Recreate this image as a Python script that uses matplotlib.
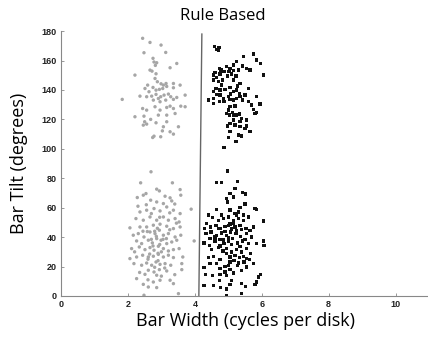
import numpy as np
import matplotlib
matplotlib.use("Agg")
import matplotlib.pyplot as plt

# gray group (narrow bars), upper cluster: (width, tilt)
gray_hi_x = [2.44, 2.66, 2.99, 2.48, 2.75, 2.78, 3.13, 2.82, 2.66, 2.72, 2.86, 3.46, 3.26, 2.21,
             2.84, 2.59, 2.81, 3.36, 3.14, 2.88, 2.75, 2.99, 3.06, 2.51, 2.63, 2.84, 2.94, 3.04,
             3.16, 3.36, 3.56, 2.71, 2.84, 2.91, 2.98, 3.08, 3.21, 3.28, 3.46, 3.71, 1.83, 2.36,
             2.56, 2.76, 2.96, 3.13, 3.36, 2.44, 2.56, 2.81, 2.96, 3.16, 3.26, 3.36, 3.58, 3.71,
             2.91, 3.16, 3.41, 2.21, 2.48, 2.50, 2.56, 2.46, 3.16, 2.84, 3.06, 3.51, 2.68, 2.78,
             2.98, 3.36, 2.74, 3.03, 3.26]
gray_hi_y = [175.1, 172.3, 170.5, 165.3, 161.5, 159.0, 165.5, 156.7, 153.5, 152.8, 158.5, 158.0,
             155.1, 150.1, 151.0, 143.3, 147.8, 144.4, 144.4, 145.6, 141.7, 144.2, 143.3, 141.0,
             138.8, 139.9, 140.4, 141.0, 142.4, 141.5, 143.3, 135.8, 137.0, 134.2, 135.4, 136.5,
             137.2, 135.4, 134.9, 136.5, 133.6, 135.8, 135.4, 133.1, 132.0, 133.1, 133.6, 127.4,
             126.3, 128.6, 126.3, 128.1, 129.0, 127.4, 129.0, 128.6, 122.9, 122.9, 124.0, 121.8,
             122.2, 118.4, 116.8, 116.1, 118.4, 117.7, 115.0, 115.0, 120.0, 108.6, 108.2, 110.0,
             107.7, 112.2, 111.6]

# gray group, lower cluster
gray_lo_x = [2.69, 2.38, 3.33, 2.86, 2.94, 3.56, 2.28, 2.46, 2.54, 2.68, 3.11, 3.26, 3.31, 3.58,
             2.86, 3.06, 3.89, 3.16, 2.78, 2.56, 2.36, 2.96, 3.36, 3.56, 2.24, 2.46, 2.66, 2.86,
             3.06, 3.21, 3.41, 3.53, 2.06, 2.36, 2.56, 2.76, 2.96, 3.16, 3.36, 3.56, 2.16, 2.31,
             2.48, 2.66, 2.81, 2.94, 3.06, 3.21, 3.41, 3.58, 3.98, 2.26, 2.41, 2.61, 2.73, 2.86,
             2.99, 3.16, 3.31, 3.46, 2.11, 2.34, 2.51, 2.66, 2.78, 2.91, 3.06, 3.21, 3.36, 3.53,
             2.06, 2.26, 2.44, 2.61, 2.76, 2.91, 3.06, 3.21, 3.36, 3.64, 2.18, 2.41, 2.56, 2.71,
             2.84, 2.96, 3.11, 3.28, 3.61, 2.61, 2.78, 2.94, 3.16, 3.61, 2.51, 2.86, 2.26, 2.96,
             3.26, 3.36, 2.46, 2.61, 2.86, 3.51, 2.48, 2.76,
             2.85, 2.95, 2.75, 3.00, 2.90, 2.65, 2.80, 3.05, 2.70, 2.60, 2.90, 3.10, 2.80, 2.88,
             2.58, 3.25, 3.15, 2.45, 2.95, 2.70, 3.25, 2.55, 3.40, 2.30, 3.45, 2.20, 2.35, 3.00,
             3.40, 2.60]
gray_lo_y = [84.4, 76.9, 76.9, 72.6, 71.4, 72.3, 66.9, 68.5, 69.6, 65.1, 67.8, 66.7, 64.6, 68.5,
             63.9, 62.8, 59.0, 60.5, 59.4, 58.3, 57.1, 57.8, 58.3, 56.0, 52.6, 51.5, 53.7, 51.5,
             53.7, 51.5, 52.6, 50.3, 46.3, 46.9, 46.9, 48.1, 48.8, 47.4, 45.8, 46.9, 41.3, 42.4,
             40.1, 43.5, 42.4, 44.7, 41.3, 42.4, 40.1, 41.3, 37.4, 37.4, 35.6, 37.9, 36.1, 39.0,
             37.9, 35.6, 36.7, 37.9, 32.2, 33.3, 31.5, 32.9, 31.1, 33.8, 32.2, 30.6, 31.5, 32.2,
             25.4, 26.5, 27.7, 26.5, 27.0, 28.3, 26.5, 27.7, 26.1, 26.5, 22.0, 20.9, 22.4, 20.9,
             23.1, 21.5, 22.0, 20.9, 22.0, 17.5, 16.3, 17.9, 17.0, 17.9, 14.7, 14.1, 11.8, 10.7,
             10.7, 8.4, 7.9, 6.1, 5.7, 1.6, 0.5, 9.5,
             40.5, 35.0, 34.0, 30.0, 29.0, 28.5, 44.0, 38.5, 38.5, 25.0, 24.0, 19.0, 19.5, 46.0,
             43.8, 45.0, 39.0, 44.0, 53.5, 56.0, 56.5, 62.0, 62.5, 61.0, 49.5, 30.0, 16.0, 13.5,
             14.5, 11.0]

# black group (wide bars), upper cluster
black_hi_x = [4.58, 4.65, 4.72, 4.70, 5.15, 5.05, 5.25, 5.45, 5.75, 5.85, 5.97, 5.42, 4.95, 4.73,
              4.78, 4.60, 4.55, 4.65, 4.75, 4.87, 5.02, 5.15, 5.30, 5.55, 5.65, 6.05, 4.55, 4.70,
              4.83, 4.97, 5.10, 5.23, 4.80, 4.63, 5.15, 5.35, 5.27, 5.60, 5.05, 4.90, 4.75, 4.55,
              5.15, 5.25, 5.50, 5.33, 5.35, 5.07, 5.00, 4.85, 4.75, 4.65, 4.40, 4.55, 4.73, 4.87,
              5.05, 5.15, 5.25, 5.43, 5.60, 5.70, 5.85, 5.95, 5.75, 4.55, 5.05, 5.20, 5.00, 5.12,
              4.95, 5.03, 5.15, 5.25, 5.33, 5.80, 5.85, 5.35, 5.40, 5.55, 5.15, 5.05, 4.98, 5.20,
              5.35, 5.50, 5.65, 5.05, 5.30, 5.55, 5.00, 5.23, 4.87, 5.40]
black_hi_y = [169.4, 167.6, 168.7, 166.7, 156.9, 154.6, 159.2, 162.6, 164.4, 160.3, 158.0, 156.2,
              155.8, 154.6, 153.5, 151.7, 150.1, 148.5, 150.8, 152.4, 152.4, 153.1, 153.5, 154.6,
              153.5, 150.1, 146.7, 145.6, 146.7, 149.4, 150.8, 149.4, 143.3, 141.0, 146.7, 144.4,
              142.6, 141.0, 141.7, 140.4, 139.9, 138.8, 138.8, 139.9, 136.5, 137.6, 135.4, 137.2,
              135.4, 134.2, 136.5, 137.0, 133.1, 130.8, 132.0, 132.0, 133.6, 133.1, 134.0, 133.1,
              132.0, 129.7, 135.4, 130.4, 126.8, 134.2, 128.6, 129.0, 126.3, 124.5, 124.0, 122.9,
              122.9, 122.9, 123.6, 124.0, 124.5, 118.4, 120.6, 119.5, 119.5, 117.2, 115.4, 116.1,
              115.0, 113.8, 111.6, 111.6, 109.3, 115.4, 107.5, 104.8, 100.9, 108.6]

# black group, lower cluster
black_lo_x = [4.98, 4.65, 4.80, 5.27, 5.20, 5.42, 5.52, 5.05, 4.95, 5.15, 5.50, 4.97, 5.80, 5.85,
              4.65, 5.05, 5.20, 5.30, 5.45, 5.60, 6.05, 5.75, 4.40, 4.52, 4.70, 4.85, 5.00, 5.15,
              5.30, 5.45, 4.35, 4.28, 4.47, 4.63, 4.75, 4.90, 5.05, 5.20, 5.35, 5.53, 5.65, 4.33,
              4.48, 4.65, 4.80, 4.95, 5.07, 5.23, 5.37, 5.55, 5.70, 4.27, 4.43, 4.60, 4.75, 4.87,
              5.00, 5.13, 5.27, 5.43, 5.60, 5.85, 6.05, 6.07, 4.50, 4.70, 4.84, 4.95, 5.10, 5.25,
              5.40, 5.55, 5.67, 4.40, 4.55, 4.75, 5.05, 5.17, 5.33, 5.47, 5.63, 4.45, 4.65, 5.00,
              5.27, 5.55, 5.75, 4.27, 4.75, 4.90, 5.05, 5.40, 4.95, 4.32, 4.53, 4.75, 5.15, 5.90,
              5.97, 5.85, 5.80, 5.10, 4.73, 4.27, 4.55, 4.77, 4.95, 5.40, 5.52, 5.40, 4.95, 5.05,
              4.90, 5.00, 5.10, 4.85, 5.25, 5.35, 4.95, 5.20, 5.45, 5.30, 5.10, 4.70, 4.60, 5.15,
              5.40, 4.80, 5.35, 4.75, 5.55, 5.05, 4.90, 5.50, 4.45, 5.25, 5.00]
black_lo_y = [85.0, 77.1, 77.1, 77.6, 73.0, 70.3, 69.2, 69.6, 66.2, 67.3, 62.4, 63.9, 59.4, 58.7,
              58.7, 58.3, 56.0, 57.1, 54.9, 53.7, 51.0, 46.9, 54.9, 53.3, 51.5, 52.6, 53.7, 51.5,
              52.6, 51.5, 49.2, 45.8, 46.9, 48.1, 45.8, 47.4, 48.8, 46.9, 48.1, 45.8, 44.7, 42.4,
              43.5, 41.3, 42.9, 41.3, 43.5, 42.4, 40.6, 42.4, 40.1, 36.1, 34.5, 37.4, 38.3, 35.6,
              37.4, 39.0, 36.1, 37.4, 35.6, 35.6, 37.4, 34.5, 31.5, 32.9, 30.6, 32.2, 29.9, 31.5,
              29.9, 32.2, 28.8, 26.1, 27.0, 24.7, 26.5, 24.3, 26.1, 23.1, 24.7, 22.0, 22.0, 20.9,
              20.9, 19.7, 22.0, 19.3, 18.6, 16.3, 17.9, 17.5, 14.1, 14.7, 14.1, 14.7, 15.6, 12.9,
              14.7, 9.5, 7.9, 10.7, 10.7, 7.0, 7.3, 5.7, 4.8, 8.4, 6.6, 1.6, 0.5, 7.9,
              44.0, 39.5, 45.5, 38.0, 44.5, 33.5, 29.0, 27.5, 27.0, 22.5, 35.0, 46.0, 40.0, 49.5,
              45.0, 55.0, 60.0, 34.0, 25.5, 23.0, 20.0, 38.5, 39.0, 55.0, 48.0]

# category boundary drawn in the figure (slightly tilted)
bound_x = [4.12, 4.21]
bound_y = [0, 178]

fig = plt.figure(figsize=(4.28, 3.37), dpi=100)
ax = fig.add_axes([0.1425, 0.1217, 0.86, 0.786])

ax.scatter(gray_hi_x + gray_lo_x, gray_hi_y + gray_lo_y, s=6, color="#a6a6a6",
           edgecolors="none", zorder=2)
ax.scatter(black_hi_x + black_lo_x, black_hi_y + black_lo_y, s=6, color="#111111",
           marker="s", edgecolors="none", zorder=3)
ax.plot(bound_x, bound_y, color="#666666", lw=1.0, zorder=1)

ax.set_xlim(0, 11)
ax.set_ylim(0, 180)
ax.set_xticks([0, 2, 4, 6, 8, 10])
ax.set_yticks(range(0, 181, 20))
for s in ["top", "right"]:
    ax.spines[s].set_visible(False)
for s in ["left", "bottom"]:
    ax.spines[s].set_color("#888888")
    ax.spines[s].set_linewidth(0.8)
ax.tick_params(direction="in", length=2, width=0.6, color="#888888",
               labelsize=6.5, labelcolor="#222222", pad=3)
for lab in ax.get_xticklabels() + ax.get_yticklabels():
    lab.set_fontfamily("Liberation Sans")
    lab.set_fontweight("bold")

ax.set_xlabel("Bar Width (cycles per disk)", fontsize=13, family="Open Sans", labelpad=2)
ax.set_ylabel("Bar Tilt (degrees)", fontsize=13, family="Open Sans", labelpad=10)
fig.text(0.521, 0.952, "Rule Based", fontsize=12, family="Open Sans",
         ha="center", va="center")

fig.savefig("out.png", dpi=100, facecolor="white")
